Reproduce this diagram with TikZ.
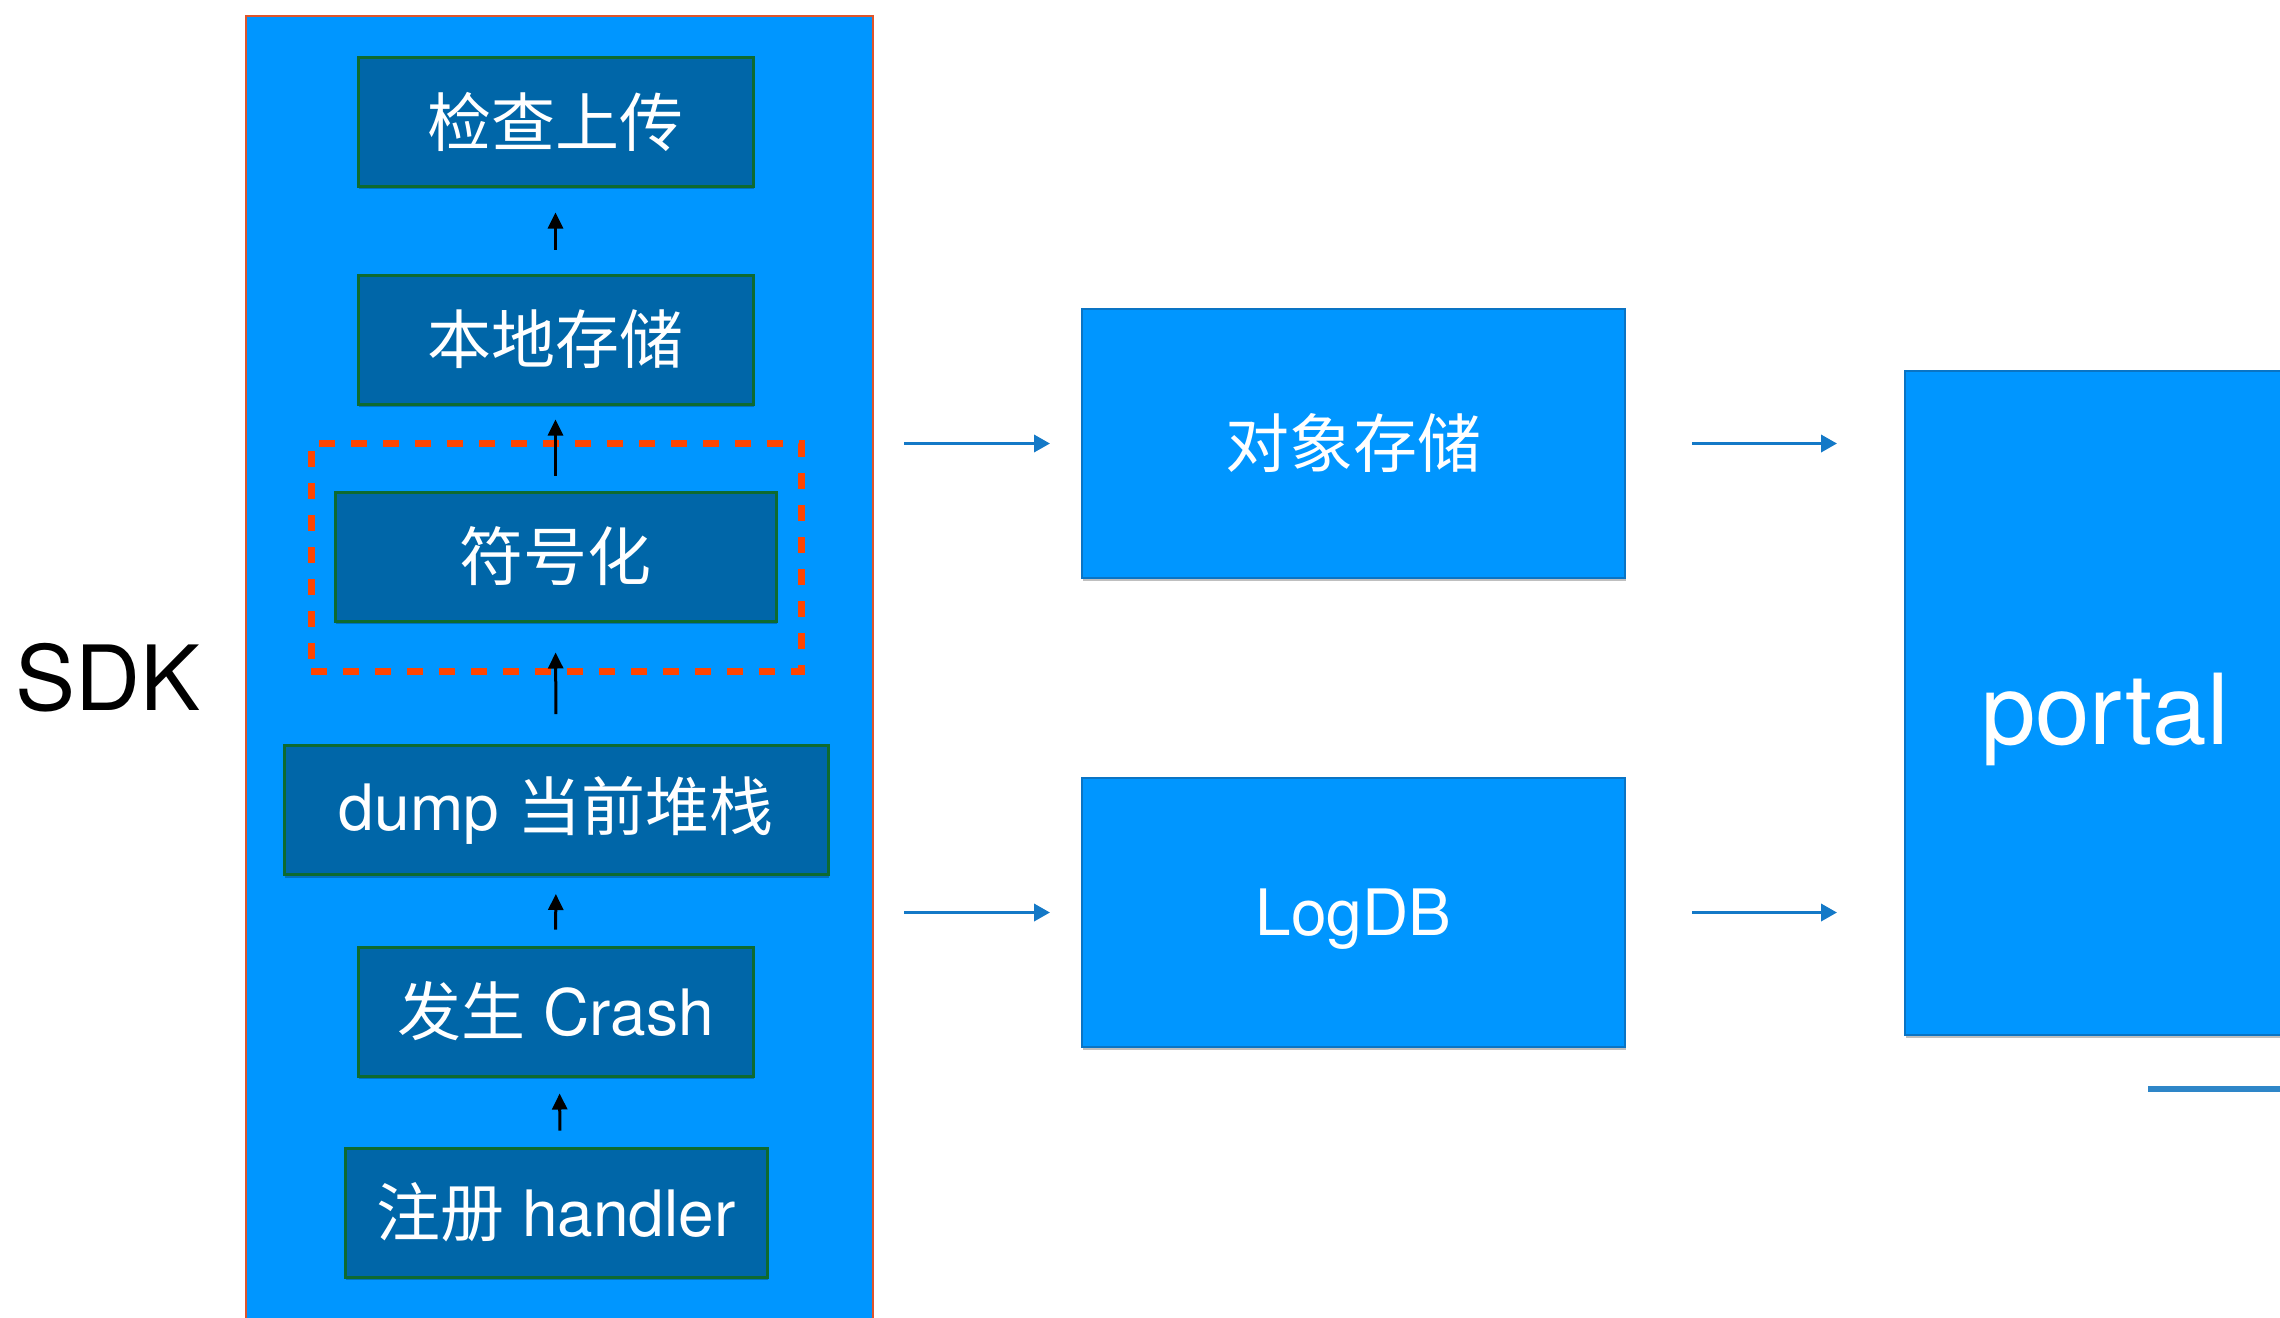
\documentclass[tikz,border=0pt]{standalone}
\usepackage{fontspec}
\setmainfont{TeX Gyre Heros}
\newfontfamily\cjk{Noto Sans CJK SC}
\usetikzlibrary{arrows.meta,shadows}
\definecolor{sdkblue}{RGB}{0,150,255}
\definecolor{stepfill}{RGB}{0,102,168}
\definecolor{stepedge}{RGB}{14,106,48}
\definecolor{svcedge}{RGB}{10,116,196}
\definecolor{flowblue}{RGB}{20,121,199}
\definecolor{frameedge}{RGB}{224,85,43}
\definecolor{markred}{RGB}{255,69,0}
\definecolor{tailblue}{RGB}{46,134,200}
\begin{document}
\begin{tikzpicture}[x=1pt,y=-1pt,
  softshadow/.style={drop shadow={shadow xshift=1pt,shadow yshift=-3pt,opacity=0.25,fill=black}},
  stepbox/.style={draw=stepedge, line width=3pt, fill=stepfill, text=white,
    minimum height=129pt, inner sep=0pt, font=\fontsize{64}{64}\selectfont, softshadow},
  svcbox/.style={draw=svcedge, line width=2pt, fill=sdkblue, text=white,
    inner sep=0pt, font=\fontsize{64}{64}\selectfont, softshadow},
  upflow/.style={-{Triangle[length=16pt,width=15pt]}, line width=3pt, black},
  rightflow/.style={-{Triangle[length=16pt,width=17pt]}, line width=3.5pt, flowblue},
]
\useasboundingbox (0,0) rectangle (2280,1317);
\clip (0,0) rectangle (2280,1317);
\fill[white] (0,0) rectangle (2280,1317);

% SDK column
\node[draw=frameedge, line width=2pt, fill=sdkblue, minimum width=627pt,
      minimum height=1330pt, inner sep=0pt, softshadow] (sdk) at (559.5,681) {};
\node[anchor=base west, font=\fontsize{90}{90}\selectfont, text=black] (sdklabel) at (12,710) {SDK};

% steps inside the SDK
\node[stepbox, minimum width=395pt] (check) at (555.5,121.5) {\cjk 检查上传};
\node[stepbox, minimum width=395pt] (local) at (555.5,339.5) {\cjk 本地存储};
\node[draw=markred, line width=7pt, dash pattern=on 16pt off 16pt,
      minimum width=490pt, minimum height=228pt, inner sep=0pt] (symframe) at (556,557) {};
\node[stepbox, minimum width=441pt] (symbol) at (555.5,556.5) {\cjk 符号化};
\node[stepbox, minimum width=544pt] (dump) at (556,810) {dump {\cjk 当前堆栈}};
\node[stepbox, minimum width=395pt] (crash) at (555.5,1011.5) {{\cjk 发生} Crash};
\node[stepbox, minimum width=422pt] (handler) at (556,1212.5) {{\cjk 注册} handler};

\draw[upflow, shorten <=24pt, shorten >=25pt] (local.north) -- (check.south);
\draw[upflow, shorten <=15pt, shorten >=14pt] (symbol.north) -- (local.south);
\draw[upflow, shorten <=30pt, shorten >=30pt] (dump.north) -- (symbol.south);
\draw[upflow, shorten <=16pt, shorten >=18pt] (crash.north) -- (dump.south);
\draw[upflow, shorten <=16pt, shorten >=16pt] ([xshift=4pt]handler.north) -- ([xshift=4pt]crash.south);

% storage services
\node[svcbox, minimum width=543pt, minimum height=269pt] (objstore) at (1353.5,443.5) {\cjk 对象存储};
\node[svcbox, minimum width=543pt, minimum height=269pt, text depth=0pt] (logdb) at (1353.5,912.5) {LogDB};

% portal
\node[svcbox, minimum width=400pt, minimum height=664pt] (portal) at (2105,703) {};
\node[anchor=base, text=white, font=\fontsize{98}{98}\selectfont] (portallabel) at (2105,744) {portal};

\draw[rightflow, shorten <=30pt, shorten >=31pt] (sdk.east |- objstore.west) -- (objstore.west);
\draw[rightflow, shorten <=30pt, shorten >=31pt] (sdk.east |- logdb.west) -- (logdb.west);
\draw[rightflow, shorten <=66pt, shorten >=67pt] (objstore.east) -- (portal.west |- objstore.east);
\draw[rightflow, shorten <=66pt, shorten >=67pt] (logdb.east) -- (portal.west |- logdb.east);

% trailing line below the portal
\coordinate (tailstart) at (2148,1089);
\coordinate (tailend) at (2290,1089);
\draw[tailblue, line width=6pt] (tailstart) -- (tailend);
\end{tikzpicture}
\end{document}
